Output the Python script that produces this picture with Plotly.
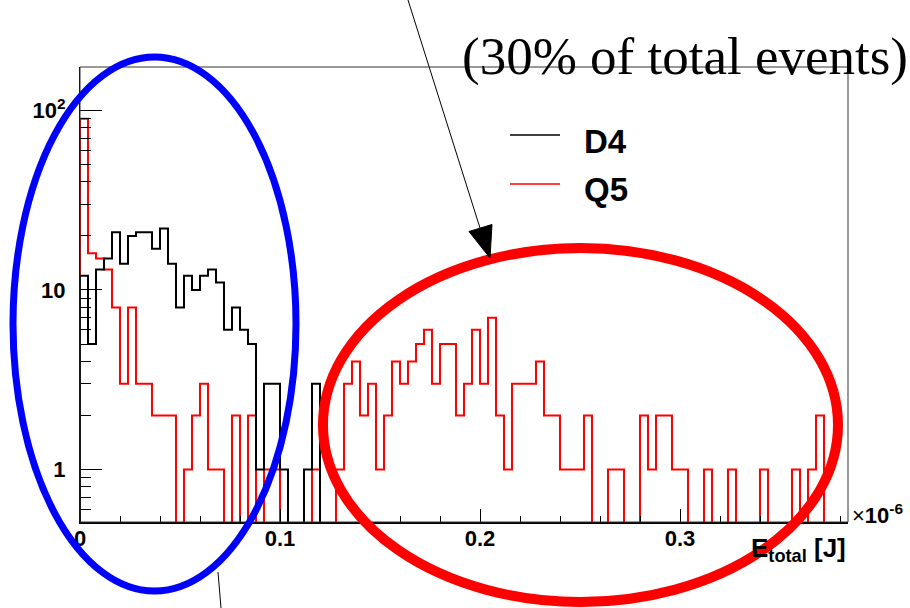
import plotly.graph_objects as go

# ---------------- data ----------------
bin_low = 0.0          # x in units of 1e-6 J
bin_width = 0.004
d4_counts = [12, 5, 13, 15, 21, 14, 20, 21, 21, 17,
             22, 14, 8, 12, 10, 12, 13, 11, 6, 8,
             6, 5, 1, 3, 3, 1, 0, 0, 1, 3,
             0, 0, 0, 0, 0, 0, 0, 0, 0, 0,
             0, 0, 0, 0, 0, 0, 0, 0, 0, 0,
             0, 0, 0, 0, 0, 0, 0, 0, 0, 0,
             0, 0, 0, 0, 0, 0, 0, 0, 0, 0,
             0, 0, 0, 0, 0, 0, 0, 0, 0, 0,
             0, 0, 0, 0, 0, 0, 0, 0, 0, 0,
             0, 0, 0, 0, 0, 0]
q5_counts = [90, 16, 15, 13, 8, 3, 8, 3, 3, 2,
             2, 2, 0, 1, 2, 3, 1, 1, 0, 2,
             0, 2, 0, 1, 1, 0, 0, 0, 0, 1,
             0, 0, 1, 3, 4, 2, 3, 1, 2, 4,
             3, 4, 5, 6, 3, 5, 5, 2, 3, 6,
             3, 7, 2, 1, 3, 3, 3, 4, 2, 2,
             1, 1, 1, 2, 0, 0, 1, 1, 0, 0,
             2, 1, 2, 2, 1, 1, 0, 0, 1, 0,
             0, 1, 0, 0, 0, 1, 0, 0, 0, 1,
             0, 1, 2, 0, 0, 0]
series_names = ["D4", "Q5"]
series_colors = ["#000000", "#ff0000"]
x_tickvals = [0, 0.1, 0.2, 0.3]
x_ticktext = ["0", "0.1", "0.2", "0.3"]
y_tickvals = [1, 10, 100]
y_ticktext = ["1", "10", "10<sup>2</sup>"]
x_range = [0.0, 0.384]
y_log_range = [-0.2925, 2.2423]
note_text = "(30% of total events)"

# ---------------- helpers ----------------
W, H = 910, 608
L, R, T, B = 80, 848, 67, 522


def px(x):
    return (x - L) / (R - L)


def py(y):
    return (B - y) / (B - T)


def step_xy(counts, floor=0.05):
    n = len(counts)
    edges = [bin_low + i * bin_width for i in range(n + 1)]
    ys = [c if c > 0 else floor for c in counts]
    xs = [edges[0]] + edges[:-1] + [edges[-1]]
    yv = [floor] + ys + [ys[-1]]
    return xs, yv


fig = go.Figure()
# red first, black on top
for counts, name, color in [(q5_counts, series_names[1], series_colors[1]),
                            (d4_counts, series_names[0], series_colors[0])]:
    xs, ys = step_xy(counts)
    fig.add_trace(go.Scatter(x=xs, y=ys, mode="lines", line_shape="hv",
                             line=dict(color=color, width=2), name=name,
                             showlegend=False, hoverinfo="skip"))

tick_font = dict(family="Liberation Sans", size=22, color="black", weight="bold")
y_minor = [k * 10 ** p for p in (-1, 0, 1, 2) for k in range(2, 10)]

fig.update_layout(
    width=W, height=H,
    margin=dict(l=L, r=W - R, t=T, b=H - B, pad=0),
    paper_bgcolor="white", plot_bgcolor="white",
    showlegend=False,
    xaxis=dict(range=x_range, showgrid=False, zeroline=False,
               showline=True, linecolor="black", linewidth=2,
               tickmode="array", tickvals=x_tickvals, ticktext=x_ticktext,
               ticks="inside", ticklen=13, tickwidth=1, tickcolor="black",
               tickfont=tick_font, ticklabelstandoff=-4,
               minor=dict(dtick=0.02, tick0=0, ticks="inside", ticklen=6,
                          tickwidth=1, tickcolor="black", showgrid=False)),
    yaxis=dict(type="log", range=y_log_range, showgrid=False, zeroline=False,
               showline=True, linecolor="black", linewidth=1,
               tickmode="array", tickvals=y_tickvals, ticktext=y_ticktext,
               ticks="inside", ticklen=22, tickwidth=1, tickcolor="black",
               tickfont=tick_font, ticklabelstandoff=9,
               minor=dict(tickmode="array", tickvals=y_minor, ticks="inside",
                          ticklen=11, tickwidth=1, tickcolor="black",
                          showgrid=False)),
)

shapes = []
# frame
shapes.append(dict(type="rect", xref="paper", yref="paper", x0=0, x1=1, y0=0, y1=1,
                   line=dict(color="#333333", width=1), layer="above"))
# blue ellipse
shapes.append(dict(type="circle", xref="paper", yref="paper",
                   x0=px(13), x1=px(296), y0=py(591), y1=py(57),
                   line=dict(color="#0000ff", width=7), layer="above"))
# red ellipse
shapes.append(dict(type="circle", xref="paper", yref="paper",
                   x0=px(323), x1=px(838), y0=py(602), y1=py(248),
                   line=dict(color="#ff0000", width=10), layer="above"))
# arrow line and head
shapes.append(dict(type="line", xref="paper", yref="paper",
                   x0=px(408), y0=py(0), x1=px(480), y1=py(228),
                   line=dict(color="black", width=1), layer="above"))
tip = (490, 258)
c1 = (492.0, 224.5)
c2 = (469.0, 231.5)
path = "M {:.5f},{:.5f} L {:.5f},{:.5f} L {:.5f},{:.5f} Z".format(
    px(tip[0]), py(tip[1]), px(c1[0]), py(c1[1]), px(c2[0]), py(c2[1]))
shapes.append(dict(type="path", xref="paper", yref="paper", path=path,
                   fillcolor="black", line=dict(color="black", width=1), layer="above"))
# lower pointer line
shapes.append(dict(type="line", xref="paper", yref="paper",
                   x0=px(218), y0=py(572), x1=px(221), y1=py(608),
                   line=dict(color="black", width=1), layer="above"))
# legend samples
legend_y = [135, 184]
for name, color, yy in zip(series_names, series_colors, legend_y):
    shapes.append(dict(type="line", xref="paper", yref="paper",
                       x0=px(510), x1=px(560), y0=py(yy), y1=py(yy),
                       line=dict(color=color, width=1.5), layer="above"))
fig.update_layout(shapes=shapes)

ann = []
legend_text_y = [141, 189]
for name, yy in zip(series_names, legend_text_y):
    ann.append(dict(xref="paper", yref="paper", x=px(582), y=py(yy),
                    xanchor="left", yanchor="middle", showarrow=False,
                    text="<b>%s</b>" % name,
                    font=dict(family="Liberation Sans", size=33, color="black")))
ann.append(dict(xref="paper", yref="paper", x=px(685), y=py(56),
                xanchor="center", yanchor="middle", showarrow=False,
                text=note_text,
                font=dict(family="Liberation Serif", size=53, color="black")))
ann.append(dict(xref="paper", yref="paper", x=px(850), y=py(514),
                xanchor="left", yanchor="middle", showarrow=False,
                text="×<b>10<sup>-6</sup></b>",
                font=dict(family="Liberation Sans", size=22, color="black")))
ann.append(dict(xref="paper", yref="paper", x=px(848), y=py(549),
                xanchor="right", yanchor="middle", showarrow=False,
                text="<b>E<sub>total</sub> [J]</b>",
                font=dict(family="Liberation Sans", size=26, color="black")))
fig.update_layout(annotations=ann)

fig.write_html("out.html",
               config={"displayModeBar": False},
               post_script="document.body.style.margin='0px';"
                           "document.body.style.overflow='hidden';")
